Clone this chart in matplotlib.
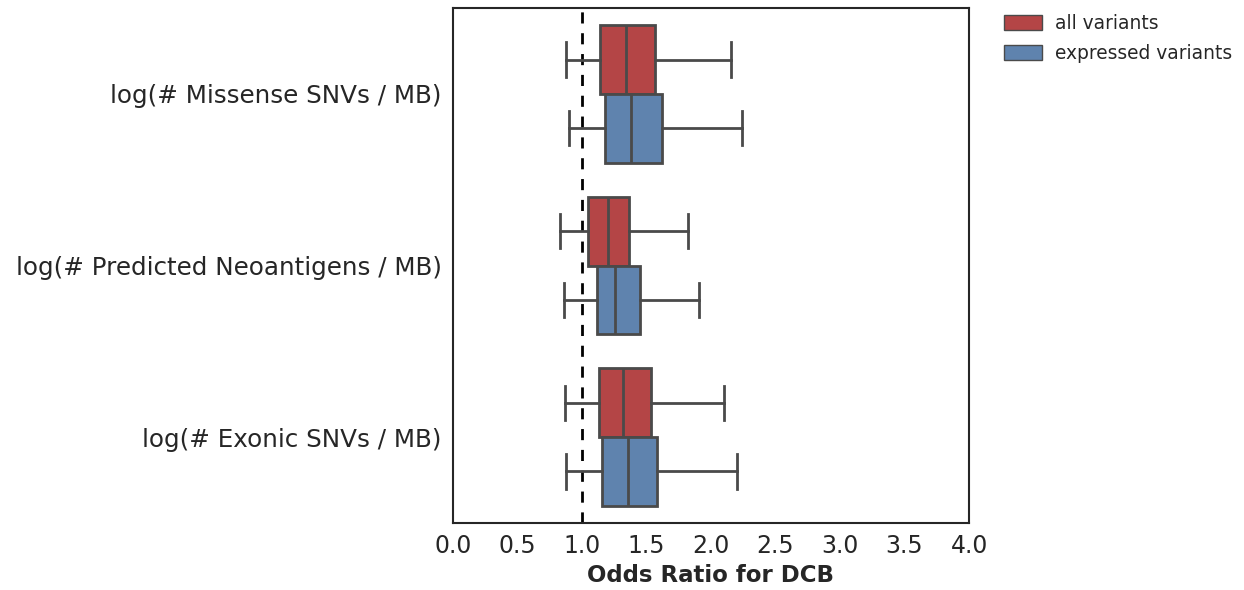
import matplotlib
matplotlib.use('Agg')
import matplotlib.pyplot as plt
from matplotlib.patches import Patch

# summary stats per feature (whislo, q1, median, q3, whishi)
features = ['log(# Missense SNVs / MB)',
            'log(# Predicted Neoantigens / MB)',
            'log(# Exonic SNVs / MB)']
groups = ['all variants', 'expressed variants']

all_whislo = [0.876, 0.83, 0.873]
all_q1 = [1.14, 1.05, 1.134]
all_med = [1.34, 1.20, 1.318]
all_q3 = [1.566, 1.367, 1.535]
all_whishi = [2.155, 1.82, 2.103]

expr_whislo = [0.90, 0.863, 0.876]
expr_q1 = [1.178, 1.114, 1.157]
expr_med = [1.38, 1.258, 1.354]
expr_q3 = [1.62, 1.45, 1.584]
expr_whishi = [2.24, 1.905, 2.202]

colors = ['#b44546', '#5f83ae']
edge = '#4a4a4a'


def make_stats(lo, q1, med, q3, hi):
    return [dict(whislo=a, q1=b, med=c, q3=d, whishi=e, fliers=[])
            for a, b, c, d, e in zip(lo, q1, med, q3, hi)]


stats = [make_stats(all_whislo, all_q1, all_med, all_q3, all_whishi),
         make_stats(expr_whislo, expr_q1, expr_med, expr_q3, expr_whishi)]

plt.rcParams['font.family'] = 'DejaVu Sans'
plt.rcParams['text.color'] = '#262626'
plt.rcParams['axes.labelcolor'] = '#262626'
plt.rcParams['xtick.color'] = '#262626'
plt.rcParams['ytick.color'] = '#262626'

fig = plt.figure(figsize=(12.44, 5.9), dpi=100)
ax = fig.add_axes([0.364, 0.1136, 0.415, 0.8728])

width = 0.4
for k, (st, col) in enumerate(zip(stats, colors)):
    offset = (k - 0.5) * width
    pos = [i + offset for i in range(len(features))]
    ax.bxp(st, positions=pos, widths=width, vert=False, patch_artist=True,
           showfliers=False,
           boxprops=dict(facecolor=col, edgecolor=edge, linewidth=2),
           medianprops=dict(color=edge, linewidth=2),
           whiskerprops=dict(color=edge, linewidth=2),
           capprops=dict(color=edge, linewidth=2))

ax.axvline(1.0, color='black', linestyle='--', linewidth=2, dashes=(4, 3.5), zorder=0)

ax.set_xlim(0, 4)
ax.set_ylim(2.5, -0.5)
ax.set_yticks(range(len(features)))
ax.set_yticklabels(features, fontsize=17.7)
ax.set_xticks([0, 0.5, 1.0, 1.5, 2.0, 2.5, 3.0, 3.5, 4.0])
ax.set_xticklabels(['0.0', '0.5', '1.0', '1.5', '2.0', '2.5', '3.0', '3.5', '4.0'], fontsize=17)
ax.tick_params(length=0, pad=8)
ax.set_xlabel('Odds Ratio for DCB', fontsize=16.5, fontweight='bold', labelpad=4)
for s in ax.spines.values():
    s.set_color('#262626')
    s.set_linewidth(1.5)

handles = [Patch(facecolor=c, edgecolor=edge, label=g) for c, g in zip(colors, groups)]
ax.legend(handles=handles, loc='upper left', bbox_to_anchor=(1.036, 1.021),
          frameon=False, fontsize=13.4, handlelength=2.0, handleheight=0.9,
          handletextpad=0.7, labelspacing=0.6)

fig.savefig('out.png', dpi=100)
